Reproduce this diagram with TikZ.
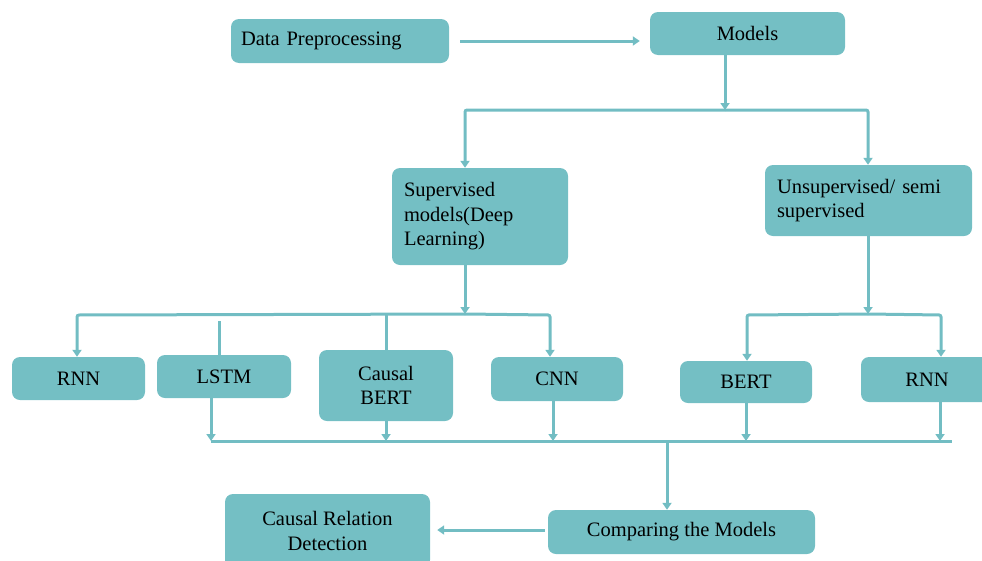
\documentclass[tikz,border=0pt]{standalone}
\usepackage{fontspec}
\setmainfont{Liberation Serif}
\usetikzlibrary{arrows.meta}
\definecolor{tealbox}{HTML}{74BFC4}
\definecolor{tealline}{HTML}{72BDC3}
\begin{document}
\begin{tikzpicture}[x=1pt,y=-1pt,
 box/.style={fill=tealbox, rounded corners=8pt, inner sep=0pt,
   font=\fontsize{20.5}{24.5}\selectfont, align=center, text=black},
 conn/.style={draw=tealline, line width=3pt, rounded corners=2pt},
 arr/.style={conn, -{Triangle[width=9pt,length=7pt]}},
]
\useasboundingbox (0,0) rectangle (982,560);
\clip (0,0) rectangle (982,560);

% boxes
\node[box, minimum width=218pt, minimum height=44pt, text width=198pt, align=left] (dp) at (340,41) {Data Preprocessing};
\node[box, minimum width=195pt, minimum height=43pt] (models) at (747.5,33.5) {Models};
\node[box, minimum width=176pt, minimum height=97pt, text width=152pt, align=left] (sup) at (480,216.5) {Supervised\\models(Deep\\Learning)};
\node[box, minimum width=207pt, minimum height=71pt, text width=183pt, align=left] (uns) at (868.5,200.5) {Unsupervised/ semi\\supervised};
\node[box, minimum width=133pt, minimum height=43pt] (rnnA) at (78.5,378.5) {RNN};
\node[box, minimum width=134pt, minimum height=43pt] (lstm) at (224,376.5) {LSTM};
\node[box, minimum width=134pt, minimum height=71pt] (cbert) at (386,385.5) {Causal\\BERT};
\node[box, minimum width=132pt, minimum height=44pt] (cnn) at (557,379) {CNN};
\node[box, minimum width=132pt, minimum height=42pt] (bert) at (746,382) {BERT};
\node[box, minimum width=132pt, minimum height=45pt] (rnnB) at (927,379.5) {RNN};
\node[box, minimum width=267pt, minimum height=44pt] (comp) at (681.5,532) {Comparing the Models};
\node[box, minimum width=205pt, minimum height=74pt] (crd) at (327.5,531) {Causal Relation\\Detection};

% coordinates of the connector network
\coordinate (t0) at (725,110);
\coordinate (tl) at (465,110);
\coordinate (tr) at (868,110);
\coordinate (sm) at (465,314);
\coordinate (sl) at (77,315);
\coordinate (sr) at (550,315);
\coordinate (sc) at (386,315);
\coordinate (lt) at (219,321);
\coordinate (um) at (868,314);
\coordinate (ul) at (747,315);
\coordinate (ur) at (941,315);
\coordinate (bl) at (211,441);
\coordinate (br) at (952,441);
\coordinate (bm) at (667,441);
\coordinate (bc) at (553,441);
\coordinate (bb) at (746,441);
\coordinate (bn) at (940,441);

% top
\draw[arr, shorten <=11pt, shorten >=10pt] (dp.east) -- (dp.east -| models.west);
\draw[arr] (models.south -| t0) -- (t0);
\draw[arr] (t0) -- (tl) -- (tl |- sup.north);
\draw[arr] (t0) -- (tr) -- (tr |- uns.north);

% supervised branch
\draw[arr] (sup.south -| sm) -- (sm);
\draw[arr] (sm) -- (sl) -- (sl |- rnnA.north);
\draw[arr] (sm) -- (sr) -- (sr |- cnn.north);
\draw[conn] (lt) -- (lt |- lstm.north);
\draw[conn] (sc) -- (cbert.north);

% unsupervised branch
\draw[arr] (uns.south -| um) -- (um);
\draw[arr] (um) -- (ul) -- (ul |- bert.north);
\draw[arr] (um) -- (ur) -- (ur |- rnnB.north);

% bottom bus
\draw[conn] (bl) -- (br);
\draw[arr] (lstm.south -| bl) -- (bl);
\draw[arr] (cbert.south) -- (cbert.south |- bl);
\draw[arr] (cnn.south -| bc) -- (bc);
\draw[arr] (bert.south -| bb) -- (bb);
\draw[arr] (rnnB.south -| bn) -- (bn);
\draw[arr] (bm) -- (bm |- comp.north);
\draw[arr, shorten <=3pt, shorten >=7pt] (comp.west |- 0,530) -- (crd.east |- 0,530);
\end{tikzpicture}
\end{document}
